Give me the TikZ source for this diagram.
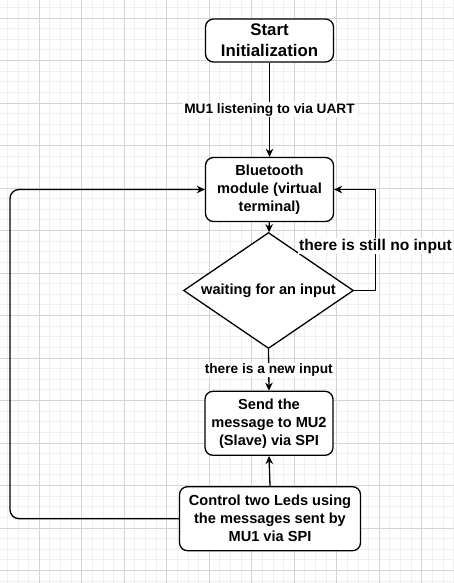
\documentclass[tikz,border=0pt]{standalone}
\usepackage{fontspec}
\setmainfont{Liberation Sans}
\usetikzlibrary{arrows.meta,shapes.geometric}
\definecolor{minorg}{RGB}{240,240,240}
\definecolor{majorg}{RGB}{212,212,212}
\tikzset{
  minorgrid/.style={draw=minorg,line width=0.9pt},
  majorgrid/.style={draw=majorg,line width=0.9pt},
  box/.style={draw=black,fill=white,line width=1.3pt,rounded corners=8pt,
    minimum width=128pt,minimum height=64pt,inner sep=2pt,align=center,
    font=\fontsize{14.6}{18}\selectfont\bfseries},
  dec/.style={draw=black,fill=white,line width=1.3pt,shape=diamond,aspect=1.466,
    minimum width=170pt,minimum height=116pt,inner sep=0pt,
    font=\fontsize{14.6}{18}\selectfont\bfseries},
  arr/.style={draw=black,line width=1.3pt,-{Stealth[length=8pt,width=7.5pt,inset=2.5pt]}},
  lbl/.style={fill=white,inner sep=1pt,font=\fontsize{13.7}{16}\selectfont\bfseries},
}
\begin{document}
\begin{tikzpicture}[x=1pt,y=-1pt]
\useasboundingbox (0,0) rectangle (454,583);
\fill[white] (0,0) rectangle (454,583);
% grid
\foreach \i in {0,...,43} {\draw[minorgrid] ({-3.2+\i*10.625},0) -- ++(0,583);}
\foreach \j in {0,...,55} {\draw[minorgrid] (0,{-3.25+\j*10.625}) -- ++(454,0);}
\foreach \i in {-1,...,10} {\draw[majorgrid] ({39.3+\i*42.5},0) -- ++(0,583);}
\foreach \j in {0,...,13} {\draw[majorgrid] (0,{18+\j*42.5}) -- ++(454,0);}
% nodes
\node[box,minimum height=43pt,font=\fontsize{16.8}{21}\selectfont\bfseries] (start) at (269.5,40.5) {Start\\Initialization};
\node[box] (bt) at (269.5,189.5) {Bluetooth\\module (virtual\\terminal)};
\node[dec] (dia) at (268.5,290.5) {waiting for an input};
\node[box] (send) at (269,423.3) {Send the\\message to MU2\\(Slave) via SPI};
\node[box,minimum width=181pt] (ctrl) at (270,518.7) {Control two Leds using\\the messages sent by\\MU1 via SPI};
\coordinate (rx) at (375.5,0);
\coordinate (lx) at (10,0);
% edges
\draw[arr] (start) -- node[lbl,pos=0.5]{MU1 listening to via UART} (bt);
\draw[arr] (bt) -- (dia);
\draw[arr] (dia.east) -- (dia.east -| rx) -- node[lbl,pos=0.44,font=\fontsize{15.6}{18}\selectfont\bfseries]{there is still no input} (bt.east -| rx) -- (bt.east);
\draw[arr] (dia.south) -- node[lbl,pos=0.5]{there is a new input} (send.north);
\draw[arr] (ctrl.north) -- (send.south);
\draw[arr,rounded corners=9pt] (ctrl.west) -- (ctrl.west -| lx) -- (bt.west -| lx) -- (bt.west);
\end{tikzpicture}
\end{document}
